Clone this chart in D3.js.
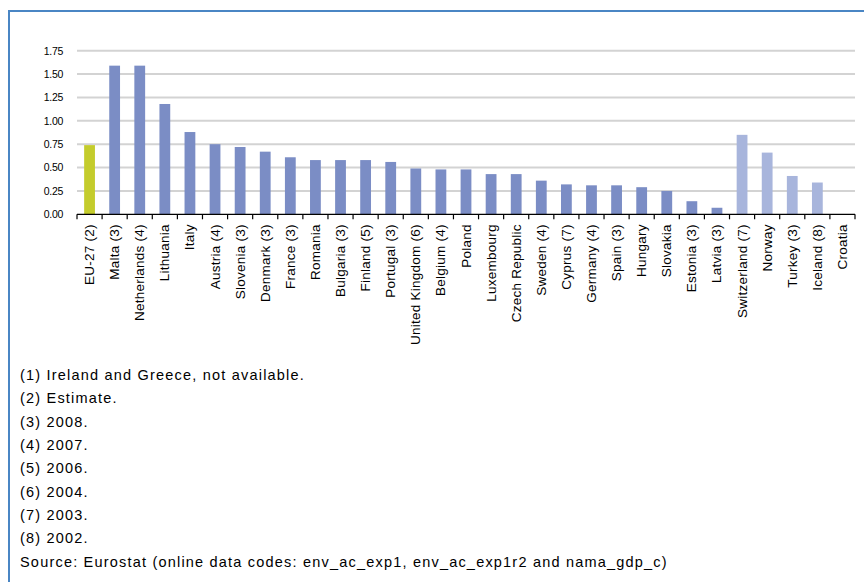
<!DOCTYPE html>
<html>
<head>
<meta charset="utf-8">
<script src="https://cdn.jsdelivr.net/npm/d3@7"></script>
<style>
  html, body { margin: 0; padding: 0; background: #ffffff; }
  svg { display: block; }
  text { font-family: "Liberation Sans", Arial, sans-serif; fill: #000; }
</style>
</head>
<body>
<svg id="chart" width="864" height="582"></svg>
<script>
// Environmental protection expenditure, % of GDP
const categories = [
  "EU-27 (2)", "Malta (3)", "Netherlands (4)", "Lithuania", "Italy",
  "Austria (4)", "Slovenia (3)", "Denmark (3)", "France (3)", "Romania",
  "Bulgaria (3)", "Finland (5)", "Portugal (3)", "United Kingdom (6)", "Belgium (4)",
  "Poland", "Luxembourg", "Czech Republic", "Sweden (4)", "Cyprus (7)",
  "Germany (4)", "Spain (3)", "Hungary", "Slovakia", "Estonia (3)",
  "Latvia (3)", "Switzerland (7)", "Norway", "Turkey (3)", "Iceland (8)", "Croatia"
];
const values = [
  0.74, 1.59, 1.59, 1.18, 0.88,
  0.75, 0.72, 0.67, 0.61, 0.58,
  0.58, 0.58, 0.56, 0.49, 0.48,
  0.48, 0.43, 0.43, 0.36, 0.32,
  0.31, 0.31, 0.29, 0.25, 0.14,
  0.07, 0.85, 0.66, 0.41, 0.34, null
];
// "agg" = EU aggregate, "eu" = member state, "other" = non-member
const groups = [
  "agg", "eu", "eu", "eu", "eu",
  "eu", "eu", "eu", "eu", "eu",
  "eu", "eu", "eu", "eu", "eu",
  "eu", "eu", "eu", "eu", "eu",
  "eu", "eu", "eu", "eu", "eu",
  "eu", "other", "other", "other", "other", "other"
];
const yTicks = [0, 0.25, 0.5, 0.75, 1.0, 1.25, 1.5, 1.75];
const footnotes = [
  "(1) Ireland and Greece, not available.",
  "(2) Estimate.",
  "(3) 2008.",
  "(4) 2007.",
  "(5) 2006.",
  "(6) 2004.",
  "(7) 2003.",
  "(8) 2002.",
  "Source: Eurostat (online data codes: env_ac_exp1, env_ac_exp1r2 and nama_gdp_c)"
];

const colors = { agg: "#c4cc2c", eu: "#7b8dc5", other: "#a8b5dc" };

const svg = d3.select("#chart");

// outer frame
svg.append("rect")
  .attr("x", 9).attr("y", 11)
  .attr("width", 900).attr("height", 600)
  .attr("fill", "none")
  .attr("stroke", "#4a86c4")
  .attr("stroke-width", 2);

const plot = { left: 77, right: 855, top: 50.7, bottom: 214.3 };

const x = d3.scaleBand()
  .domain(categories)
  .range([plot.left, plot.right])
  .paddingInner(0.57)
  .paddingOuter(0.285);

const xTicks = d3.scaleBand()
  .domain(categories)
  .range([plot.left, plot.right]);

const y = d3.scaleLinear()
  .domain([0, 1.75])
  .range([plot.bottom, plot.top]);

// horizontal gridlines
svg.append("g")
  .selectAll("line")
  .data(yTicks.filter(d => d > 0))
  .join("line")
  .attr("x1", plot.left).attr("x2", plot.right)
  .attr("y1", d => y(d)).attr("y2", d => y(d))
  .attr("stroke", "#d3d3d3")
  .attr("stroke-width", 2);

// y-axis labels
const yAxis = d3.axisLeft(y)
  .tickValues(yTicks)
  .tickFormat(d3.format(".2f"))
  .tickSize(0)
  .tickPadding(0);
const yg = svg.append("g")
  .attr("transform", `translate(${plot.left - 14},0)`)
  .call(yAxis);
yg.select(".domain").remove();
yg.selectAll("text")
  .attr("font-size", 10.5)
  .attr("font-family", "'Liberation Sans', Arial, sans-serif")
  .attr("letter-spacing", "-0.3px")
  .attr("fill", "#000");

// bars
svg.append("g")
  .selectAll("rect")
  .data(categories.map((c, i) => ({ c, v: values[i], g: groups[i] })).filter(d => d.v != null))
  .join("rect")
  .attr("x", d => x(d.c))
  .attr("width", x.bandwidth())
  .attr("y", d => y(d.v))
  .attr("height", d => y(0) - y(d.v))
  .attr("fill", d => colors[d.g]);

// x axis: baseline, ticks between categories, rotated labels
const axisG = svg.append("g");
axisG.append("line")
  .attr("x1", plot.left).attr("x2", plot.right)
  .attr("y1", y(0)).attr("y2", y(0))
  .attr("stroke", "#000").attr("stroke-width", 1.2);
const boundaries = categories.map(c => xTicks(c)).concat([plot.right]);
axisG.selectAll("line.tick")
  .data(boundaries)
  .join("line")
  .attr("class", "tick")
  .attr("x1", d => d).attr("x2", d => d)
  .attr("y1", y(0)).attr("y2", y(0) + 5)
  .attr("stroke", "#000").attr("stroke-width", 1.2);

axisG.selectAll("text.cat")
  .data(categories)
  .join("text")
  .attr("class", "cat")
  .attr("transform", d => `translate(${xTicks(d) + xTicks.bandwidth() / 2 + 4.5},${y(0) + 10}) rotate(-90)`)
  .attr("text-anchor", "end")
  .attr("font-size", 13.5)
  .attr("letter-spacing", "0.25px")
  .text(d => d);

// footnotes and source
svg.append("g")
  .selectAll("text")
  .data(footnotes)
  .join("text")
  .attr("x", 20)
  .attr("y", (d, i) => 380 + i * 23.35)
  .attr("font-size", 14.5)
  .attr("letter-spacing", "1.2px")
  .text(d => d);
</script>
</body>
</html>
